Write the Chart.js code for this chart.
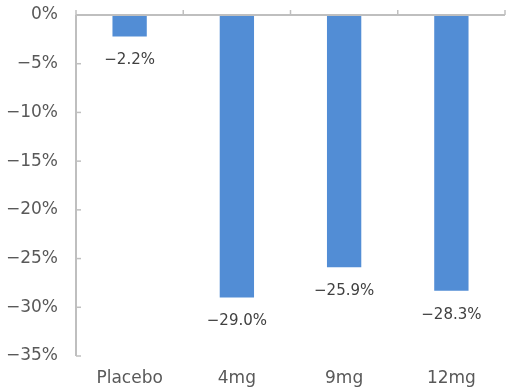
<!DOCTYPE html>
<html>
<head>
<meta charset="utf-8">
<script src="https://cdn.jsdelivr.net/npm/chart.js@4"></script>
<style>
  html, body { margin: 0; padding: 0; background: #fff; }
  #wrap { width: 506px; height: 390px; }
</style>
</head>
<body>
<div id="wrap"><canvas id="doseChart"></canvas></div>
<script>
// data
var categories = ["Placebo", "4mg", "9mg", "12mg"];
var changePct = [-2.2, -29.0, -25.9, -28.3];
var yTicks = [0, -5, -10, -15, -20, -25, -30, -35];

var fontFamily = "'DejaVu Sans', sans-serif";

function pctLabel(v) {
    if (v === 0) return '0%';
    return (v < 0 ? '\u2212' : '') + Math.abs(v) + '%';
}

// axis line at zero + inner tick marks + value labels
var decorations = {
    id: 'decorations',
    afterDatasetsDraw: function (chart) {
        var ctx = chart.ctx;
        var x = chart.scales.x, y = chart.scales.y;
        var area = chart.chartArea;
        var zeroY = y.getPixelForValue(0);
        ctx.save();
        ctx.strokeStyle = '#bfbfbf';
        ctx.lineWidth = 2;
        // zero line
        ctx.beginPath();
        ctx.moveTo(area.left, zeroY);
        ctx.lineTo(area.right, zeroY);
        ctx.stroke();
        // y axis line
        ctx.beginPath();
        ctx.moveTo(area.left, area.top);
        ctx.lineTo(area.left, area.bottom);
        ctx.stroke();
        // y ticks pointing right
        ctx.lineWidth = 1.5;
        yTicks.forEach(function (t) {
            var py = y.getPixelForValue(t);
            ctx.beginPath();
            ctx.moveTo(area.left, py);
            ctx.lineTo(area.left + 5, py);
            ctx.stroke();
        });
        // x ticks (category boundaries) pointing up
        var half = (x.getPixelForValue(1) - x.getPixelForValue(0)) / 2;
        for (var i = 0; i <= categories.length; i++) {
            var px = x.getPixelForValue(0) - half + i * half * 2;
            ctx.beginPath();
            ctx.moveTo(px, zeroY);
            ctx.lineTo(px, zeroY - 5);
            ctx.stroke();
        }
        // value labels
        ctx.fillStyle = '#404040';
        ctx.font = '15px ' + fontFamily;
        ctx.textAlign = 'center';
        ctx.textBaseline = 'middle';
        var meta = chart.getDatasetMeta(0);
        meta.data.forEach(function (bar, i) {
            ctx.fillText(changePct[i].toFixed(1).replace('-', '\u2212') + '%', bar.x, bar.y + 24);
        });
        ctx.restore();
    }
};

var ctx = document.getElementById('doseChart').getContext('2d');
var doseChart = new Chart(ctx, {
    type: 'bar',
    data: {
        labels: categories,
        datasets: [{
            data: changePct,
            backgroundColor: '#528dd5',
            borderWidth: 0,
            barPercentage: 0.32,
            categoryPercentage: 1.0
        }]
    },
    options: {
        responsive: true,
        maintainAspectRatio: false,
        animation: false,
        layout: { padding: { top: 15, right: 1, left: 0, bottom: 0 } },
        plugins: {
            legend: { display: false },
            tooltip: { enabled: false }
        },
        scales: {
            x: {
                grid: { display: false, drawTicks: false },
                border: { display: false },
                ticks: {
                    color: '#595959',
                    padding: 12,
                    font: { family: fontFamily, size: 17 }
                },
                afterFit: function (s) { s.height = 34; s.paddingLeft = 0; s.paddingRight = 0; }
            },
            y: {
                min: -35,
                max: 0,
                grid: { display: false, drawTicks: false },
                border: { display: false },
                ticks: {
                    stepSize: 5,
                    color: '#595959',
                    padding: 18,
                    font: { family: fontFamily, size: 17 },
                    callback: function (v) { return pctLabel(v); }
                },
                afterFit: function (s) { s.width = 76; s.paddingTop = 0; s.paddingBottom = 0; }
            }
        }
    },
    plugins: [decorations]
});
</script>
</body>
</html>
